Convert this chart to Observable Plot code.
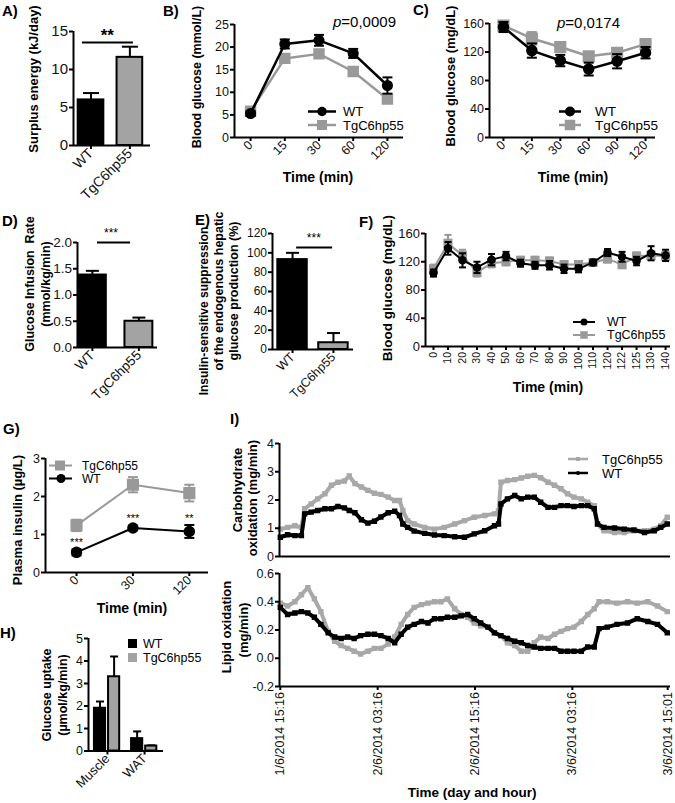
<!DOCTYPE html>
<html><head><meta charset="utf-8">
<script src="https://cdn.jsdelivr.net/npm/d3@7"></script>
<script src="https://cdn.jsdelivr.net/npm/@observablehq/plot@0.6"></script>
<style>
html,body{margin:0;padding:0;background:#fff;}
#stage{position:relative;width:675px;height:803px;overflow:hidden;background:#fff;}
#stage svg{position:absolute;overflow:visible;}
</style></head><body><div id="stage"></div>
<script>
// ---------------- DATA ----------------
// A) Surplus energy
const aCats = ["WT", "TgC6hp55"];
const aMean = [6.0, 11.6];
const aSem = [0.9, 1.4];
// B) Blood glucose (mmol/L)
const bTimes = ["0", "15", "30", "60", "120"];
const bWT = [5.3, 20.7, 21.5, 18.6, 11.5];
const bWTsem = [0.5, 1.0, 1.2, 1.0, 1.8];
const bTg = [5.8, 17.5, 18.5, 14.6, 8.5];
const bTgSem = [0.5, 0.6, 0.8, 0.6, 0.7];
// C) Blood glucose (mg/dL)
const cTimes = ["0", "15", "30", "60", "90", "120"];
const cWT = [155, 122, 108, 96, 107, 119];
const cWTsem = [7, 10, 8, 9, 10, 8];
const cTg = [157, 139, 127, 114, 119, 131];
const cTgSem = [5, 9, 7, 6, 5, 5];
// D) Glucose infusion rate
const dCats = ["WT", "TgC6hp55"];
const dMean = [1.38, 0.5];
const dSem = [0.08, 0.07];
// E) Suppression of hepatic glucose production
const eCats = ["WT", "TgC6hp55"];
const eMean = [93, 7];
const eSem = [7, 10];
// F) Clamp blood glucose
const fTimes = ["0","10","20","30","40","50","60","70","80","90","100","110","120","122","125","130","140"];
const fWT = [104,139,122,112,123,128,118,115,115,110,110,119,133,127,121,132,129];
const fWTsem = [5,9,10,8,8,6,5,5,6,6,5,4,5,7,6,10,8];
const fTg = [110,146,129,105,118,120,122,122,121,116,116,119,124,116,128,129,128];
const fTgSem = [6,12,8,6,6,5,5,5,5,5,5,4,5,5,5,6,6];
// G) Plasma insulin
const gTimes = ["0", "30", "120"];
const gWT = [0.53, 1.17, 1.08];
const gWTsem = [0.08, 0.06, 0.17];
const gTg = [1.24, 2.31, 2.09];
const gTgSem = [0.15, 0.2, 0.22];
const gStars = ["***", "***", "**"];
// H) Glucose uptake
const hGroups = ["Muscle", "WAT"];
const hWT = [1.9, 0.55];
const hWTsem = [0.3, 0.32];
const hTg = [3.3, 0.22];
const hTgSem = [0.9, 0.03];
// I) Indirect calorimetry (hours since 1/6/2014 15:16)
const carbHours = [0.0,0.9,1.8,2.6,3.0,3.8,4.6,5.5,6.3,7.1,7.9,8.5,9.2,10.0,10.8,11.6,12.4,13.3,14.1,14.7,15.1,15.7,16.5,17.8,19.0,20.2,21.5,22.7,23.9,25.2,26.4,26.9,27.2,28.0,28.9,29.7,30.5,31.3,32.1,33.0,33.8,34.6,35.4,36.2,37.1,37.9,38.7,39.1,39.9,41.2,42.4,43.6,44.9,46.1,46.9,47.7];
const carbTg = [0.97,1.03,1.09,1.03,1.69,1.86,2.04,2.22,2.52,2.63,2.67,2.85,2.58,2.46,2.34,2.24,2.20,2.10,1.98,1.98,1.63,1.27,1.15,1.03,0.97,1.03,1.15,1.27,1.39,1.45,1.51,1.60,2.63,2.69,2.72,2.78,2.84,2.87,2.79,2.63,2.52,2.40,2.22,2.10,2.04,1.92,1.80,1.15,0.91,0.85,0.85,0.91,0.91,0.97,1.09,1.39];
const carbWT = [0.68,0.77,0.74,0.74,1.51,1.57,1.63,1.69,1.69,1.77,1.72,1.63,1.55,1.30,1.18,1.25,1.40,1.55,1.60,1.45,1.15,1.03,0.90,0.82,0.76,0.74,0.70,0.68,0.80,0.91,1.09,1.15,1.86,2.04,2.16,2.04,2.10,2.10,1.92,1.74,1.74,1.80,1.80,1.77,1.80,1.80,1.69,1.15,1.03,1.01,0.97,0.94,0.85,0.91,1.03,1.15];
const lipHours = [0.0,0.9,1.8,2.6,3.4,4.2,5.0,5.9,6.7,7.5,8.3,9.1,9.9,10.8,11.6,12.4,13.3,14.1,14.9,15.7,16.5,17.4,18.2,19.0,19.8,20.6,21.5,22.3,23.1,23.9,24.7,25.6,26.4,27.2,28.0,28.9,29.7,30.5,31.3,32.1,33.0,33.8,34.6,35.4,36.2,37.1,37.9,38.7,39.3,40.3,41.5,42.8,44.0,45.3,46.5,47.7];
const lipTg = [0.39,0.37,0.40,0.45,0.50,0.42,0.33,0.19,0.12,0.09,0.07,0.05,0.03,0.05,0.07,0.07,0.10,0.15,0.24,0.31,0.36,0.38,0.39,0.40,0.40,0.42,0.35,0.31,0.29,0.25,0.23,0.22,0.18,0.16,0.11,0.09,0.05,0.05,0.11,0.15,0.14,0.17,0.19,0.21,0.22,0.26,0.31,0.35,0.40,0.40,0.39,0.40,0.39,0.40,0.37,0.33];
const lipWT = [0.36,0.31,0.32,0.33,0.32,0.29,0.24,0.18,0.15,0.14,0.15,0.14,0.16,0.17,0.17,0.16,0.14,0.11,0.17,0.22,0.24,0.26,0.25,0.28,0.28,0.29,0.29,0.30,0.31,0.28,0.25,0.22,0.18,0.16,0.14,0.12,0.11,0.09,0.08,0.07,0.07,0.07,0.05,0.05,0.05,0.05,0.08,0.08,0.21,0.22,0.24,0.25,0.28,0.26,0.24,0.18];
const iTickHours = [0, 12, 24, 36, 47.75];
const iTickLabels = ["1/6/2014 15:16", "2/6/2014 03:16", "2/6/2014 15:16", "3/6/2014 03:16", "3/6/2014 15:01"];

// ---------------- STYLE ----------------
const FONT = "'Liberation Sans', Arial, Helvetica, sans-serif";
const BLACK = "#000", GREY = "#999", BARGREY = "#a3a3a3", IGREY = "#a8a8a8";
const stage = document.getElementById("stage");
const capSymbol = {draw(ctx, size) { const r = Math.sqrt(size / Math.PI); ctx.moveTo(-r, 0); ctx.lineTo(r, 0); }};

function chart(o) {
  const mL = 70, mR = 30, mT = 25, mB = 120;
  const W = mL + (o.x1 - o.x0) + mR, H = mT + (o.y1 - o.y0) + mB;
  const ax = {strokeWidth: 2, tickSize: 4, tickPadding: 1.5, fill: "#111", label: null};
  const svg = Plot.plot({
    width: W, height: H, marginLeft: mL, marginRight: mR, marginTop: mT, marginBottom: mB,
    style: {fontFamily: FONT, fontSize: o.font + "px", background: "transparent", overflow: "visible", color: "#000"},
    x: {type: "linear", domain: o.xDomain, axis: o.xTicks ? undefined : null},
    y: {type: "linear", domain: o.yDomain},
    marks: [
      ...o.marks,
      Plot.ruleX([o.xDomain[0]], {strokeWidth: 2}),
      Plot.ruleY([o.yDomain[0]], {strokeWidth: 2}),
      Plot.axisY({...ax, ticks: o.yTicks, tickFormat: o.yFmt ?? (d => String(d)), fontSize: o.font}),
      o.xTicks ? Plot.axisX({...ax, ticks: o.xTicks, tickFormat: o.xFmt, tickRotate: o.rot ?? -45, fontSize: o.xFont ?? o.font}) : null
    ]
  });
  svg.style.left = (o.x0 - mL) + "px";
  svg.style.top = (o.y0 - mT) + "px";
  stage.appendChild(svg);
}

function series(vals, sems, {color, symbol, r, lw = 2.5, capR = 5, xs = null}) {
  const idx = vals.map((_, i) => i);
  const X = xs ? (i => xs[i]) : (i => i);
  const m = [Plot.line(idx, {x: X, y: i => vals[i], stroke: color, strokeWidth: lw})];
  if (sems) {
    m.push(Plot.ruleX(idx, {x: X, y1: i => vals[i] - sems[i], y2: i => vals[i] + sems[i], stroke: color, strokeWidth: 2}));
    m.push(Plot.dot(idx, {x: X, y: i => vals[i] - sems[i], symbol: capSymbol, r: capR, fill: "none", stroke: color, strokeWidth: 2}));
    m.push(Plot.dot(idx, {x: X, y: i => vals[i] + sems[i], symbol: capSymbol, r: capR, fill: "none", stroke: color, strokeWidth: 2}));
  }
  m.push(Plot.dot(idx, {x: X, y: i => vals[i], symbol, r, fill: color, stroke: color}));
  return m;
}

function bars(vals, sems, {fill, off = 0, hw, capR}) {
  const idx = vals.map((_, i) => i);
  return [
    Plot.ruleX(idx, {x: i => i + off, y1: i => vals[i], y2: i => vals[i] + sems[i], strokeWidth: 2}),
    Plot.dot(idx, {x: i => i + off, y: i => vals[i] + sems[i], symbol: capSymbol, r: capR, fill: "none", stroke: BLACK, strokeWidth: 2}),
    Plot.rectY(idx, {x1: i => i + off - hw, x2: i => i + off + hw, y1: 0, y2: i => vals[i], fill, stroke: BLACK, strokeWidth: 2})
  ];
}
function twoBars(mean, sem, hw, capR) {
  return [
    ...bars([mean[0]], [sem[0]], {fill: BLACK, hw, capR}),
    ...bars([mean[1]], [sem[1]], {fill: BARGREY, off: 1, hw, capR})
  ];
}

// A
chart({x0: 73, x1: 150, y0: 31, y1: 145, xDomain: [-0.45, 1.53], yDomain: [0, 15], font: 15, xFont: 14,
  yTicks: [0, 5, 10, 15], xTicks: [0, 1], xFmt: i => aCats[i],
  marks: [...twoBars(aMean, aSem, 0.33, 8),
    Plot.ruleY([13.55], {x1: -0.22, x2: 1.09, strokeWidth: 2}),
    Plot.text(["**"], {x: 0.42, y: 13.55, dy: -7, fontSize: 17, fontWeight: "bold"})]});

// B
chart({x0: 234, x1: 403, y0: 24, y1: 137, xDomain: [-0.47, 4.47], yDomain: [0, 25], font: 12.5,
  yTicks: [0, 5, 10, 15, 20, 25], xTicks: [0, 1, 2, 3, 4], xFmt: i => bTimes[i],
  marks: [...series(bTg, bTgSem, {color: GREY, symbol: "square", r: 5.6}),
          ...series(bWT, bWTsem, {color: BLACK, symbol: "circle", r: 4.8})]});

// C
chart({x0: 489, x1: 655, y0: 23, y1: 137, xDomain: [-0.49, 5.35], yDomain: [0, 160], font: 12.5,
  yTicks: [0, 40, 80, 120, 160], xTicks: [0, 1, 2, 3, 4, 5], xFmt: i => cTimes[i],
  marks: [...series(cTg, cTgSem, {color: GREY, symbol: "square", r: 6}),
          ...series(cWT, cWTsem, {color: BLACK, symbol: "circle", r: 5})]});

// D
chart({x0: 77, x1: 157, y0: 242, y1: 347, xDomain: [-0.32, 1.4], yDomain: [0, 2], font: 13.5, xFont: 13.5,
  yTicks: [0, 0.5, 1, 1.5, 2], yFmt: d => d.toFixed(1), xTicks: [0, 1], xFmt: i => dCats[i],
  marks: [...twoBars(dMean, dSem, 0.3, 6.5),
    Plot.ruleY([2.0], {x1: 0.11, x2: 0.82, strokeWidth: 2}),
    Plot.text(["***"], {x: 0.4, y: 2.0, dy: -9, fontSize: 12})]});

// E
chart({x0: 272, x1: 353, y0: 233, y1: 349, xDomain: [-0.49, 1.49], yDomain: [0, 120], font: 12, xFont: 12.5,
  yTicks: [0, 20, 40, 60, 80, 100, 120], xTicks: [0, 1], xFmt: i => eCats[i],
  marks: [...twoBars(eMean, eSem, 0.36, 6.5),
    Plot.ruleY([105.5], {x1: 0.1, x2: 0.98, strokeWidth: 2}),
    Plot.text(["***"], {x: 0.52, y: 105.5, dy: -9, fontSize: 12})]});

// F
chart({x0: 425, x1: 670, y0: 233, y1: 346, xDomain: [-0.55, 16.34], yDomain: [0, 160], font: 13, xFont: 10.5, rot: -90,
  yTicks: [0, 40, 80, 120, 160], xTicks: fTimes.map((_, i) => i), xFmt: i => fTimes[i],
  marks: [...series(fTg, fTgSem, {color: GREY, symbol: "square", r: 4.3, lw: 2, capR: 3.5}),
          ...series(fWT, fWTsem, {color: BLACK, symbol: "circle", r: 3.5, lw: 2, capR: 3.5})]});

// G
chart({x0: 45, x1: 208, y0: 458, y1: 572, xDomain: [-0.55, 2.34], yDomain: [0, 3], font: 12.5,
  yTicks: [0, 1, 2, 3], xTicks: [0, 1, 2], xFmt: i => gTimes[i],
  marks: [...series(gTg, gTgSem, {color: GREY, symbol: "square", r: 6, lw: 2}),
          ...series(gWT, gWTsem, {color: BLACK, symbol: "circle", r: 5, lw: 2}),
          Plot.text(gStars, {x: (_, i) => i, y: (_, i) => gWT[i] + gWTsem[i], dy: -7, fontSize: 11})]});

// H
chart({x0: 88, x1: 163, y0: 637.5, y1: 750, xDomain: [-0.51, 1.51], yDomain: [0, 5], font: 12.5, xFont: 13,
  yTicks: [0, 1, 2, 3, 4, 5], xTicks: [0, 1], xFmt: i => hGroups[i],
  marks: [...bars(hWT, hWTsem, {fill: BLACK, off: -0.2, hw: 0.15, capR: 4}),
          ...bars(hTg, hTgSem, {fill: BARGREY, off: 0.18, hw: 0.15, capR: 4})]});

// I top (carbohydrate)
chart({x0: 279, x1: 670, y0: 443, y1: 556, xDomain: [-0.1, 48.1], yDomain: [0, 4], font: 12.5,
  yTicks: [0, 1, 2, 3, 4], xTicks: null,
  marks: [...series(carbTg, null, {color: IGREY, symbol: "square", r: 2.2, lw: 4, xs: carbHours}),
          ...series(carbWT, null, {color: BLACK, symbol: "square", r: 2.2, lw: 4, xs: carbHours})]});

// I bottom (lipid)
chart({x0: 279, x1: 670, y0: 573, y1: 686, xDomain: [-0.1, 48.1], yDomain: [-0.2, 0.6], font: 12.5, xFont: 12.5, rot: -90,
  yTicks: [-0.2, 0, 0.2, 0.4, 0.6], yFmt: d => d.toFixed(1), xTicks: iTickHours, xFmt: h => iTickLabels[iTickHours.indexOf(h)],
  marks: [...series(lipTg, null, {color: IGREY, symbol: "square", r: 2.2, lw: 4, xs: lipHours}),
          ...series(lipWT, null, {color: BLACK, symbol: "square", r: 2.2, lw: 4, xs: lipHours})]});

// ---------------- TEXT OVERLAY ----------------
const ov = d3.select(stage).append("svg").attr("width", 675).attr("height", 803)
  .style("left", "0px").style("top", "0px").style("font-family", FONT);
function txt(s, x, y, {size = 13, weight = "normal", anchor = "start", rotate = 0, fill = "#000"} = {}) {
  return ov.append("text")
    .attr("transform", `translate(${x},${y})` + (rotate ? ` rotate(${rotate})` : ""))
    .attr("text-anchor", anchor).attr("dominant-baseline", "central")
    .attr("font-size", size).attr("font-weight", weight).attr("fill", fill)
    .style("white-space", "pre").text(s);
}
const ylab = (s, x, y, size) => txt(s, x, y, {size, weight: "bold", anchor: "middle", rotate: -90});
const xlab = (s, x, y, size = 14) => txt(s, x, y, {size, weight: "bold", anchor: "middle"});

// panel letters
[["A)", 2, 10], ["B)", 163, 10], ["C)", 413, 9], ["D)", 2, 220], ["E)", 195, 219],
 ["F)", 359, 221], ["G)", 3, 428], ["H)", 0, 632], ["I)", 230, 418]]
  .forEach(([s, x, y]) => txt(s, x, y, {size: 15, weight: "bold"}));

// axis titles
ylab("Surplus energy (kJ/day)", 33, 79, 13);
ylab("Blood glucose (mmol/L)", 197, 77, 12.5);
ylab("Blood glucose (mg/dL)", 450, 76, 13);
ylab("Glucose Infusion  Rate", 30, 284, 12.5);
ylab("(mmol/kg/min)", 46, 284, 12.5);
ylab("Insulin-sensitive suppression", 204, 311, 12);
ylab("of the endogenous hepatic", 219, 291, 12.5);
ylab("glucose production (%)", 234, 291, 12.5);
ylab("Blood glucose (mg/dL)", 387, 288, 13.5);
ylab("Plasma insulin (µg/L)", 17, 520, 13);
ylab("Glucose uptake", 47, 695, 12.5);
ylab("(µmol/kg/min)", 63, 695, 12.5);
ylab("Carbohydrate", 237, 490, 13);
ylab("oxidation (mg/min)", 252, 498, 13);
ylab("Lipid oxidation", 226, 627, 13);
ylab("(mg/min)", 243, 630, 13);
xlab("Time (min)", 318, 177);
xlab("Time (min)", 573, 177);
xlab("Time (min)", 548, 387);
xlab("Time (min)", 132, 608);
xlab("Time (day and hour)", 472, 792, 13.5);

// p-values
function pval(s, x, y) {
  const t = txt("", x, y, {size: 15});
  t.append("tspan").attr("font-style", "italic").text("p");
  t.append("tspan").text(s);
}
pval("=0,0009", 333, 21);
pval("=0,0174", 557, 22);

// legends
function legendItem({x0, x1, xm, y, color, size, label, tx, fs, lw = 2.5, square = false}) {
  ov.append("line").attr("x1", x0).attr("x2", x1).attr("y1", y).attr("y2", y).attr("stroke", color).attr("stroke-width", lw);
  if (square) {
    ov.append("rect").attr("x", xm - size / 2).attr("y", y - size / 2).attr("width", size).attr("height", size).attr("fill", color);
  } else {
    ov.append("circle").attr("cx", xm).attr("cy", y).attr("r", size / 2).attr("fill", color);
  }
  txt(label, tx, y, {size: fs});
}
legendItem({x0: 308, x1: 336, xm: 322, y: 111.5, color: BLACK, size: 9.5, label: "WT", tx: 343, fs: 13});
legendItem({x0: 308, x1: 336, xm: 322, y: 125, color: GREY, size: 10, square: true, label: "TgC6hp55", tx: 343, fs: 13});
legendItem({x0: 559, x1: 581, xm: 570, y: 111.5, color: BLACK, size: 10, label: "WT", tx: 595, fs: 13.5});
legendItem({x0: 559, x1: 581, xm: 570, y: 125, color: GREY, size: 10.5, square: true, label: "TgC6hp55", tx: 595, fs: 13.5});
legendItem({x0: 573, x1: 595, xm: 584, y: 322, color: BLACK, size: 7, lw: 2, label: "WT", tx: 607, fs: 12.5});
legendItem({x0: 573, x1: 595, xm: 584, y: 335, color: GREY, size: 7.5, lw: 2, square: true, label: "TgC6hp55", tx: 607, fs: 12.5});
legendItem({x0: 49, x1: 72, xm: 60, y: 465.5, color: GREY, size: 10, lw: 2, square: true, label: "TgC6hp55", tx: 82, fs: 12});
legendItem({x0: 49, x1: 72, xm: 61, y: 478.5, color: BLACK, size: 9, lw: 2, label: "WT", tx: 82, fs: 12});
legendItem({x0: 568, x1: 588, xm: 578, y: 459, color: IGREY, size: 4, lw: 2.5, square: true, label: "TgC6hp55", tx: 602, fs: 13});
legendItem({x0: 568, x1: 588, xm: 578, y: 473, color: BLACK, size: 4, lw: 2.5, label: "WT", tx: 602, fs: 13});
// H legend (bar swatches)
ov.append("rect").attr("x", 128).attr("y", 639).attr("width", 9).attr("height", 9).attr("fill", BLACK);
txt("WT", 143, 643.5, {size: 12.5});
ov.append("rect").attr("x", 128).attr("y", 653).attr("width", 9).attr("height", 9).attr("fill", BARGREY);
txt("TgC6hp55", 143, 657.5, {size: 12.5});
</script></body></html>
